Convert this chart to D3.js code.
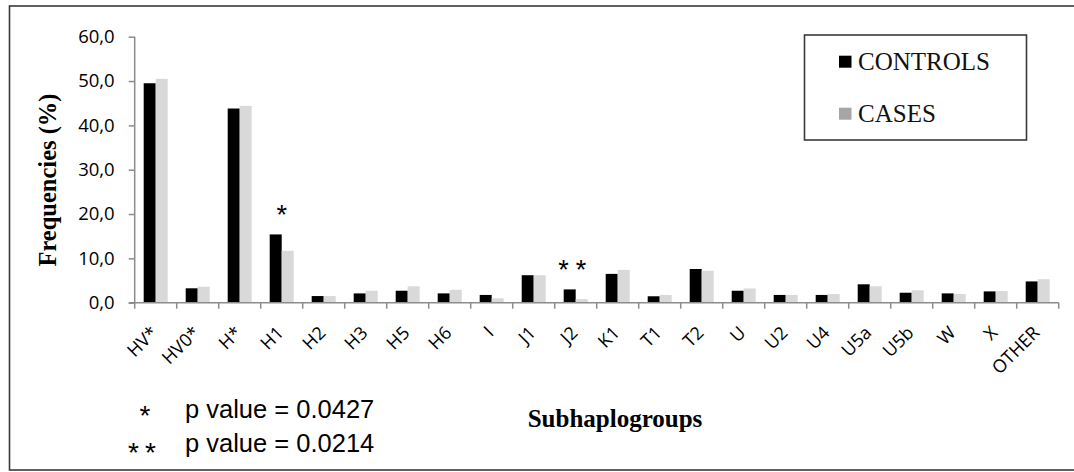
<!DOCTYPE html>
<html><head><meta charset="utf-8">
<script src="https://cdn.jsdelivr.net/npm/d3@7"></script>
<style>body{margin:0;background:#fff}svg{display:block}</style>
</head><body>
<svg id="c" width="1074" height="472"></svg>
<script>
const categories = ["HV*","HV0*","H*","H1","H2","H3","H5","H6","I","J1","J2","K1","T1","T2","U","U2","U4","U5a","U5b","W","X","OTHER"];
const controls = [49.5,3.25,43.8,15.4,1.5,2.1,2.7,2.1,1.75,6.2,3.0,6.5,1.45,7.6,2.7,1.75,1.75,4.15,2.25,2.1,2.55,4.8];
const cases    = [50.5,3.6,44.4,11.7,1.5,2.7,3.7,2.9,1.0,6.2,0.8,7.4,1.75,7.2,3.2,1.75,1.95,3.7,2.8,1.95,2.65,5.3];
const seriesNames = ["CONTROLS","CASES"];
const yTicks = [0,10,20,30,40,50,60];
const sigMarks = [{cat:"H1", label:"*"},{cat:"J2", label:"**"}];
const footnotes = [{mark:"*", text:"p value = 0.0427"},{mark:"**", text:"p value = 0.0214"}];

const svg = d3.select("#c");
const L = 134.7, R = 1058.7, T = 36.7, B = 302.7;
const axisColor = "#8c8c8c";
const barColors = ["#000000","#d9d9d9"];
const legendColors = ["#000000","#a6a6a6"];

svg.append("rect").attr("x",9.5).attr("y",6).attr("width",1100).attr("height",464)
  .attr("fill","none").attr("stroke","#3a3a3a").attr("stroke-width",1.6);

const x = d3.scaleBand().domain(categories).range([L,R]).paddingInner(18/42).paddingOuter(9/42);
const x1 = d3.scaleBand().domain(seriesNames).range([0,x.bandwidth()]);
const y = d3.scaleLinear().domain([0,60]).range([B,T]);

const data = categories.map((c,i)=>({cat:c, vals:[controls[i],cases[i]]}));
const g = svg.append("g");
data.forEach(d=>{
  d.vals.forEach((v,j)=>{
    g.append("rect").attr("x",x(d.cat)+x1(seriesNames[j])).attr("width",x1.bandwidth())
      .attr("y",y(v)).attr("height",B-y(v)).attr("fill",barColors[j]);
  });
});

const yAxis = svg.append("g").attr("transform",`translate(${L},0)`)
  .call(d3.axisLeft(y).tickValues(yTicks).tickSize(6).tickPadding(14)
    .tickFormat(d=>d3.format(".1f")(d).replace(".",",")));
yAxis.attr("font-size",null).attr("font-family",null);
yAxis.select(".domain").attr("stroke",axisColor).attr("stroke-width",1.5).attr("d",`M0,${T}V${B}`);
yAxis.selectAll(".tick line").attr("stroke",axisColor).attr("stroke-width",1.5);
yAxis.selectAll("text").style("font-family","'Open Sans'").style("font-size","18.5px").attr("fill","#000");

const step = x.step();
const xa = svg.append("g");
xa.append("line").attr("x1",L-6).attr("x2",R).attr("y1",B).attr("y2",B).attr("stroke",axisColor).attr("stroke-width",1.5);
const bounds = categories.map(c=>x(c)-x.paddingOuter()*step).concat([R]);
xa.selectAll("line.t").data(bounds).join("line").attr("class","t")
  .attr("x1",d=>d).attr("x2",d=>d).attr("y1",B).attr("y2",B+6).attr("stroke",axisColor).attr("stroke-width",1.5);
xa.selectAll("text").data(categories).join("text")
  .attr("transform",d=>`translate(${x(d)+x.bandwidth()/2+3},334) rotate(-45)`)
  .attr("text-anchor","end").style("font-family","'Open Sans'").style("font-size","18px").attr("fill","#000")
  .text(d=>d);

svg.selectAll("text.sig").data(sigMarks).join("text").attr("class","sig")
  .attr("x",d=>x(d.cat)+x.bandwidth()/2)
  .attr("y",d=>{const i=categories.indexOf(d.cat); return y(Math.max(controls[i],cases[i]))-10;})
  .attr("text-anchor","middle").attr("font-family","'Liberation Sans'")
  .attr("font-size",27).attr("letter-spacing",d=>d.label.length>1?7:0)
  .text(d=>d.label);

svg.append("text").attr("transform","translate(56,180) rotate(-90)").attr("text-anchor","middle")
  .attr("font-family","'Liberation Serif'").attr("font-weight","bold").attr("font-size",24.5).text("Frequencies (%)");
svg.append("text").attr("x",615).attr("y",427).attr("text-anchor","middle")
  .attr("font-family","'Liberation Serif'").attr("font-weight","bold").attr("font-size",25).text("Subhaplogroups");

const fn = svg.append("g");
footnotes.forEach((f,i)=>{
  const by = 418.3 + i*33.4;
  fn.append("text").attr("x",145).attr("y",by+7+i*3).attr("text-anchor","middle")
    .attr("font-family","'Liberation Sans'").attr("font-size",28).attr("letter-spacing",f.mark.length>1?6:0)
    .text(f.mark);
  fn.append("text").attr("x",185).attr("y",by).attr("font-family","'Liberation Sans'").attr("font-size",25.5).text(f.text);
});

const lg = svg.append("g");
lg.append("rect").attr("x",804.5).attr("y",35).attr("width",222).attr("height",105)
  .attr("fill","#fff").attr("stroke","#3a3a3a").attr("stroke-width",1.6);
seriesNames.forEach((s,i)=>{
  const cy = 61.7 + i*52;
  lg.append("rect").attr("x",839).attr("y",cy-6).attr("width",12.5).attr("height",12)
    .attr("fill",legendColors[i]);
  lg.append("text").attr("x",858).attr("y",cy+8.5).attr("font-family","'Liberation Serif'")
    .attr("font-size",25).attr("fill","#111").text(s);
});
</script>
</body></html>
